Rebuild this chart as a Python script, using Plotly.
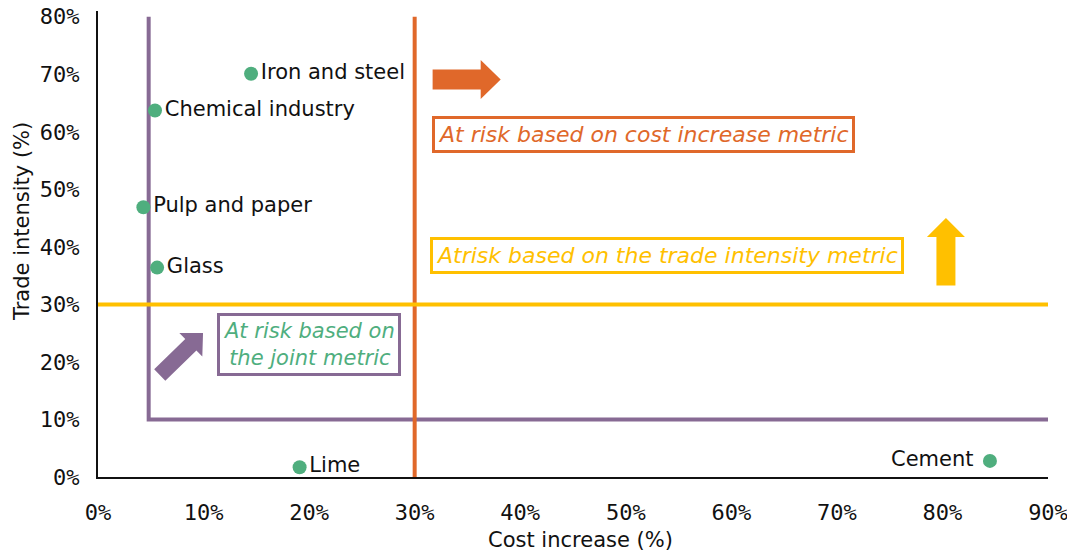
import plotly.graph_objects as go

# ---- data ----
sectors = ["Iron and steel", "Chemical industry", "Pulp and paper", "Glass", "Lime", "Cement"]
cost_increase = [0.145, 0.054, 0.043, 0.056, 0.191, 0.845]
trade_intensity = [0.701, 0.637, 0.469, 0.364, 0.017, 0.028]
label_pos = ["middle right", "middle right", "middle right", "middle right", "middle right", "middle left"]

x_ticks = [0, 0.1, 0.2, 0.3, 0.4, 0.5, 0.6, 0.7, 0.8, 0.9]
y_ticks = [0, 0.1, 0.2, 0.3, 0.4, 0.5, 0.6, 0.7, 0.8]

joint_x_threshold = 0.048
joint_y_threshold = 0.10
cost_threshold = 0.30
trade_threshold = 0.30

# colours
PURPLE = "#876A94"
ORANGE = "#E0682A"
YELLOW = "#FFC000"
GREEN = "#4FAE7E"
INK = "#111111"

# page body adds an 8px offset, so the figure is 8px smaller and shifted
OFF = 8
X_RANGE = [0, 0.9]
Y_RANGE = [0, 0.81]
W, H = 1075 - OFF, 554 - OFF
ML, MR, MT, MB = 98 - OFF, 27, 11 - OFF, 77
PW = W - ML - MR
PH = H - MT - MB
SX = PW / (X_RANGE[1] - X_RANGE[0])
SY = PH / (Y_RANGE[1] - Y_RANGE[0])

LABEL_FONT = "DejaVu Sans"


def block_arrow(tail, tip, shaft_w, head_w, head_len):
    """Block arrow polygon built in screen pixels, returned as a data-coord SVG path."""
    import math
    tx, ty = tail[0] * SX, tail[1] * SY
    hx, hy = tip[0] * SX, tip[1] * SY
    dx, dy = hx - tx, hy - ty
    L = math.hypot(dx, dy)
    ux, uy = dx / L, dy / L
    px, py = -uy, ux
    bx, by = hx - ux * head_len, hy - uy * head_len
    pts = [
        (tx + px * shaft_w / 2, ty + py * shaft_w / 2),
        (bx + px * shaft_w / 2, by + py * shaft_w / 2),
        (bx + px * head_w / 2, by + py * head_w / 2),
        (hx, hy),
        (bx - px * head_w / 2, by - py * head_w / 2),
        (bx - px * shaft_w / 2, by - py * shaft_w / 2),
        (tx - px * shaft_w / 2, ty - py * shaft_w / 2),
    ]
    return "M " + " L ".join(f"{x / SX:.5f},{y / SY:.5f}" for x, y in pts) + " Z"


fig = go.Figure()

# threshold lines
fig.add_trace(go.Scatter(
    x=[joint_x_threshold, joint_x_threshold, X_RANGE[1]],
    y=[0.80, joint_y_threshold, joint_y_threshold],
    mode="lines", line=dict(color=PURPLE, width=4), hoverinfo="skip", showlegend=False))
fig.add_trace(go.Scatter(
    x=[cost_threshold, cost_threshold], y=[0.80, 0],
    mode="lines", line=dict(color=ORANGE, width=4), hoverinfo="skip", showlegend=False))
fig.add_trace(go.Scatter(
    x=[0, X_RANGE[1]], y=[trade_threshold, trade_threshold],
    mode="lines", line=dict(color=YELLOW, width=4), hoverinfo="skip", showlegend=False))

# sectors
fig.add_trace(go.Scatter(
    x=cost_increase, y=trade_intensity, mode="markers+text",
    text=[s if p.endswith("right") else s + " " for s, p in zip(sectors, label_pos)],
    textposition=label_pos,
    textfont=dict(family=LABEL_FONT, size=21, color=INK),
    marker=dict(color=GREEN, size=14),
    showlegend=False))

# arrows
fig.add_shape(type="path", path=block_arrow((0.317, 0.691), (0.3815, 0.691), 20, 39, 20),
              fillcolor=ORANGE, line=dict(width=0), xref="x", yref="y")
fig.add_shape(type="path", path=block_arrow((0.8033, 0.3327), (0.8033, 0.4504), 19, 38, 19),
              fillcolor=YELLOW, line=dict(width=0), xref="x", yref="y")
fig.add_shape(type="path", path=block_arrow((0.0585, 0.1774), (0.0995, 0.2504), 16, 33, 17),
              fillcolor=PURPLE, line=dict(width=0), xref="x", yref="y")

# boxed notes
fig.add_annotation(x=0.5168, y=0.5957, xref="x", yref="y", showarrow=False,
                   text="<i>At risk based on cost increase metric</i>",
                   font=dict(family=LABEL_FONT, size=22, color=ORANGE),
                   bordercolor=ORANGE, borderwidth=3, borderpad=3, bgcolor="white")
fig.add_annotation(x=0.5386, y=0.3852, xref="x", yref="y", showarrow=False,
                   text="<i>Atrisk based on the trade intensity metric</i>",
                   font=dict(family=LABEL_FONT, size=22, color=YELLOW),
                   bordercolor=YELLOW, borderwidth=3, borderpad=3, bgcolor="white")
fig.add_annotation(x=0.1999, y=0.2304, xref="x", yref="y", showarrow=False,
                   text="<i>At risk based on<br>the joint metric</i>",
                   font=dict(family=LABEL_FONT, size=21, color=GREEN),
                   bordercolor=PURPLE, borderwidth=3, borderpad=3, bgcolor="white")

# axis titles (target page pixels minus body offset)
xt_x, xt_y = 580 - OFF, 540 - OFF
yt_x, yt_y = 22 - OFF, 222 - OFF
fig.add_annotation(x=(xt_x - ML) / PW, y=(H - MB - xt_y) / PH, xref="paper", yref="paper",
                   xanchor="center", yanchor="middle",
                   showarrow=False, text="Cost increase (%)",
                   font=dict(family=LABEL_FONT, size=21, color=INK))
fig.add_annotation(x=(yt_x - ML) / PW, y=(H - MB - yt_y) / PH, xref="paper", yref="paper",
                   xanchor="center", yanchor="middle",
                   showarrow=False, text="Trade intensity (%)", textangle=-90,
                   font=dict(family=LABEL_FONT, size=21, color=INK))

tick_font = dict(family="DejaVu Sans Mono", size=22, color=INK)
fig.update_xaxes(range=X_RANGE, tickvals=x_ticks, tickformat=".0%", automargin=False,
                 ticklabeloverflow="allow",
                 tickfont=tick_font, showgrid=False, zeroline=False,
                 showline=True, linecolor=INK, linewidth=2,
                 ticks="outside", ticklen=15, tickcolor="rgba(0,0,0,0)")
fig.update_yaxes(range=Y_RANGE, tickvals=y_ticks, tickformat=".0%", automargin=False,
                 ticklabeloverflow="allow",
                 tickfont=tick_font, showgrid=False, zeroline=False,
                 showline=True, linecolor=INK, linewidth=2,
                 ticks="outside", ticklen=12, tickcolor="rgba(0,0,0,0)")

fig.update_layout(width=W, height=H, margin=dict(l=ML, r=MR, t=MT, b=MB),
                  plot_bgcolor="white", paper_bgcolor="white")

fig.write_html("out.html")
